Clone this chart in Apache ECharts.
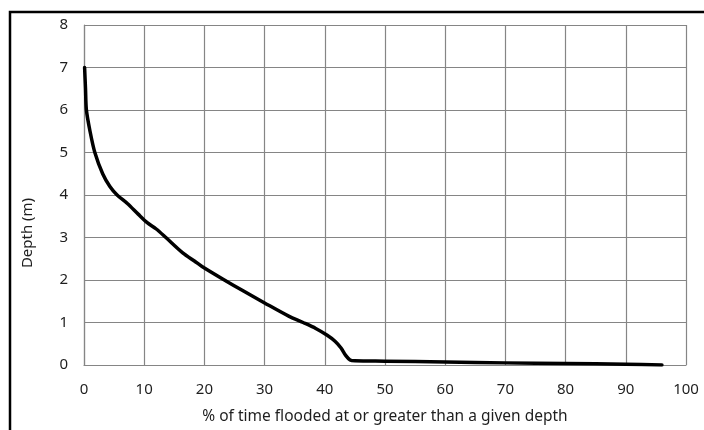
<!DOCTYPE html>
<html>
<head>
<meta charset="utf-8">
<script src="https://cdn.jsdelivr.net/npm/echarts@6/dist/echarts.min.js"></script>
<style>
html,body{margin:0;padding:0;background:#fff;}
#c{width:704px;height:430px;}
</style>
</head>
<body>
<div id="c"></div>
<script>
// % of time flooded at or greater than a given depth
var percentTime = [0.1, 0.25, 0.4, 1.0, 1.8, 3.1, 4.3, 5.5, 7.2, 9.0, 10.5, 12.0, 13.6, 16.4, 18.4, 19.6, 23.1, 26.5, 30.0, 34.0, 36.4, 38.5, 40.4, 41.7, 42.7, 43.5, 44.2, 45.0, 50, 60, 70, 80, 90, 96];
// Depth (m)
var depth = [7.0, 6.5, 6.0, 5.5, 5.0, 4.5, 4.2, 4.0, 3.8, 3.55, 3.35, 3.2, 3.0, 2.64, 2.44, 2.32, 2.02, 1.74, 1.46, 1.15, 1.0, 0.86, 0.70, 0.56, 0.40, 0.22, 0.12, 0.10, 0.09, 0.07, 0.05, 0.035, 0.02, 0.0];
var xTicks = [0, 10, 20, 30, 40, 50, 60, 70, 80, 90, 100];
var yTicks = [0, 1, 2, 3, 4, 5, 6, 7, 8];
var xTitle = '% of time flooded at or greater than a given depth';
var yTitle = 'Depth (m)';

var pts = percentTime.map(function (x, i) { return [x, depth[i]]; });
var chart = echarts.init(document.getElementById('c'), null, {renderer: 'canvas'});
var FONT = 'Noto Sans';
var TXT = '#1e1e1e';
var gridColor = '#858585';
chart.setOption({
  animation: false,
  graphic: [{
    type: 'rect',
    shape: {x: 10, y: 12, width: 720, height: 440},
    style: {fill: 'none', stroke: '#000', lineWidth: 2.5},
    silent: true
  }, {
    type: 'text',
    x: 28, y: 233,
    rotation: Math.PI / 2,
    style: {text: yTitle, fontFamily: FONT, fontSize: 15, fill: TXT, align: 'center', verticalAlign: 'middle'},
    silent: true
  }],
  grid: {left: 84, right: 18, top: 25, bottom: 60},
  xAxis: {
    type: 'value', min: xTicks[0], max: xTicks[xTicks.length - 1], interval: 10,
    name: xTitle,
    nameLocation: 'middle', nameGap: 44,
    nameTextStyle: {fontFamily: FONT, fontSize: 15.5, color: TXT},
    axisLine: {show: true, lineStyle: {color: gridColor, width: 1.2}},
    axisTick: {show: false},
    axisLabel: {margin: 17, fontFamily: FONT, fontSize: 15, color: TXT},
    splitLine: {show: true, lineStyle: {color: gridColor, width: 1.2}}
  },
  yAxis: {
    type: 'value', min: yTicks[0], max: yTicks[yTicks.length - 1], interval: 1,
    axisLine: {show: true, lineStyle: {color: gridColor, width: 1.2}},
    axisTick: {show: false},
    axisLabel: {margin: 16, fontFamily: FONT, fontSize: 15, color: TXT},
    splitLine: {show: true, lineStyle: {color: gridColor, width: 1.2}}
  },
  series: [{
    type: 'line',
    data: pts,
    smooth: 0.3,
    showSymbol: false,
    lineStyle: {color: '#000', width: 3.5, join: 'round', cap: 'round'},
    z: 5
  }]
});
</script>
</body>
</html>
